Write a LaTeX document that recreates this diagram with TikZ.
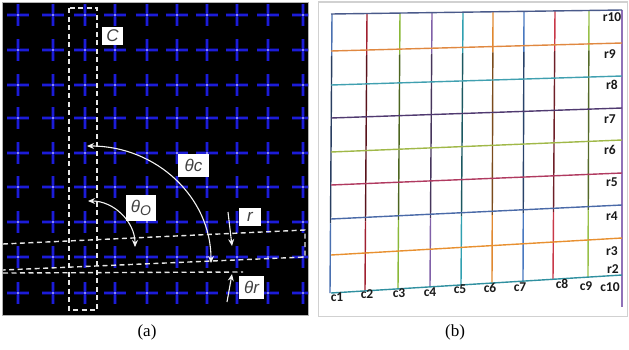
\documentclass[tikz,border=0pt]{standalone}
\usepackage{fontspec}
\newfontfamily\labfont{Liberation Sans}
\newfontfamily\gridfont{Carlito}
\newfontfamily\capfont{Liberation Serif}
\usetikzlibrary{calc,arrows.meta}
\definecolor{crossblue}{HTML}{1C1CD8}
\definecolor{crossglow}{HTML}{0C0C78}
\definecolor{dashw}{HTML}{E6E6E6}
\definecolor{kA}{HTML}{4A70B0}
\definecolor{kB}{HTML}{A02030}
\definecolor{kC}{HTML}{8AB838}
\definecolor{kD}{HTML}{8060A8}
\definecolor{kE}{HTML}{30A0B0}
\definecolor{kF}{HTML}{E08830}
\definecolor{kG}{HTML}{4878C0}
\definecolor{kH}{HTML}{C83848}
\definecolor{kI}{HTML}{98C048}
\definecolor{kJ}{HTML}{9070B8}
\definecolor{rA}{HTML}{4A5A8A}
\definecolor{rB}{HTML}{E08840}
\definecolor{rC}{HTML}{40A0B0}
\definecolor{rD}{HTML}{503A70}
\definecolor{rE}{HTML}{A0B848}
\definecolor{rF}{HTML}{B03A60}
\definecolor{rG}{HTML}{4A6AA8}
\definecolor{rH}{HTML}{E89030}
\definecolor{rI}{HTML}{3090A0}
\tikzset{
  wdash/.style={draw=dashw, line width=1.4pt, dash pattern=on 5pt off 3.5pt},
  warc/.style={draw=white!95!black, line width=1.1pt},
  lab/.style={fill=white, text=black!75, inner sep=0pt,
    font=\labfont\itshape\fontsize{17}{17}\selectfont},
  gridlab/.style={text=black!90, inner sep=0pt,
    font=\gridfont\bfseries\fontsize{13.5}{13.5}\selectfont},
  gline/.style={line width=1.4pt},
  caption/.style={font=\capfont\fontsize{17}{17}\selectfont, inner sep=0pt},
}
\begin{document}
\begin{tikzpicture}[x=1pt,y=-1pt]
\useasboundingbox (0,0) rectangle (629,349);
% ---------------- panel (a)
\fill[black] (3,3) rectangle (308,315);
\draw[black!30, line width=0.6pt] (2.5,2.5) rectangle (308.5,315.5);
\begin{scope}
  \clip (3,3) rectangle (308,315);
  \foreach \x in {18,53,85,115,147,177,207,237,268,303}{
    \foreach \y in {15,50,85,118,153,187,222,257,293}{
      \draw[crossglow, line width=3.6pt, opacity=0.7]
        (\x-11,\y) -- (\x+11,\y) (\x,\y-11) -- (\x,\y+11);
      \draw[crossblue, line width=1.6pt]
        (\x-11,\y) -- (\x+11,\y) (\x,\y-11) -- (\x,\y+11);
      \fill[blue!30!white] (\x,\y) circle (1.2pt);
    }
  }
\end{scope}
% dashed column box C
\draw[wdash] (69,8) rectangle (97,310);
% dashed row box r
\draw[wdash] (3,244) -- (305,230) -- (305,257) -- (3,270);
% level reference line
\draw[wdash] (3,273) -- (243,272);
% arcs and arrows
\coordinate (cL) at (87,146);
\coordinate (cB) at (211,263);
\coordinate (oL) at (88,201);
\coordinate (oB) at (135,247);
\coordinate (rT) at (228,212);
\coordinate (rH) at (232,246);
\coordinate (qT) at (227,302);
\coordinate (qH) at (232,274);
\draw[warc, {Stealth[length=7pt,width=6pt]}-{Stealth[length=7pt,width=6pt]}]
  (cL) .. controls (156,146) and (211,197) .. (cB);
\draw[warc, {Stealth[length=7pt,width=6pt]}-{Stealth[length=7pt,width=6pt]}]
  (oL) .. controls (114,201) and (135,222) .. (oB);
\draw[warc, -{Stealth[length=7pt,width=6pt]}] (rT) -- (rH);
\draw[warc, -{Stealth[length=7pt,width=6pt]}] (qT) -- (qH);
% labels
\node[lab, minimum width=21pt, minimum height=18pt] (labC) at (112.5,36) {C};
\node[lab, minimum width=31pt, minimum height=23pt] (labTc) at (193.5,165.5) {θc};
\node[lab, minimum width=30pt, minimum height=26pt] (labTo) at (141,208)
  {θ\raisebox{-3pt}{\fontsize{14}{14}\selectfont O}};
\node[lab, minimum width=22pt, minimum height=18pt] (labR) at (250,217) {r};
\node[lab, minimum width=25pt, minimum height=23pt] (labTr) at (251.5,287.5) {θr};
\node[caption] (capA) at (147,332) {(a)};
% ---------------- panel (b)
\draw[black!18, line width=1.5pt] (318.5,2) rectangle (627.5,316.5);
% columns: top x/y, bottom x/y, colour
\foreach \tx/\ty/\bx/\by/\col [count=\i] in {
  332/14/330/293/kA, 367/13.5/365/290.8/kB, 400/13.1/398/288.8/kC,
  432/12.6/430/286.8/kD, 463/12.2/461/284.9/kE, 493/11.8/492/283/kF,
  524/11.4/523/281.1/kG, 555/10.9/553/279.3/kH, 589/10.5/588/277.1/kI}{
  \coordinate (T\i) at (\tx,\ty);
  \coordinate (B\i) at (\bx,\by);
  \draw[gline, \col] (T\i) -- ($(T\i)!0.15!(B\i)$);
  \draw[gline, \col!55!black] ($(T\i)!0.15!(B\i)$) -- ($(T\i)!0.75!(B\i)$);
  \draw[gline, \col] ($(T\i)!0.75!(B\i)$) -- (B\i);
}
\coordinate (T10) at (622,10);
\coordinate (B10) at (622,307);
\draw[gline, kJ] (T10) -- (B10);
% rows
\foreach \ly/\ry/\col [count=\i] in {
  14/10/rA, 51/43/rB, 85/76/rC, 118/108/rD, 152/140/rE,
  185/173/rF, 219/205/rG, 255/238/rH, 293/275/rI}{
  \coordinate (L\i) at (331,\ly);
  \coordinate (R\i) at (622,\ry);
  \draw[gline, \col] (L\i) -- (R\i);
}
% row labels
\foreach \lab/\x/\y in {r10/612/17, r9/610/54, r8/612/85, r7/610/119, r6/610/150,
  r5/612/182, r4/612/216, r3/612/251, r2/613/269}{
  \node[gridlab] (lab-\lab) at (\x,\y) {\lab};
}
% column labels
\foreach \lab/\x/\y in {c1/337/297, c2/367/294, c3/399/293, c4/430/292, c5/460/289,
  c6/490/288, c7/520/287, c8/562/284, c9/586/286, c10/610/287}{
  \node[gridlab] (lab-\lab) at (\x,\y) {\lab};
}
\node[caption] (capB) at (455,332) {(b)};
\end{tikzpicture}
\end{document}
